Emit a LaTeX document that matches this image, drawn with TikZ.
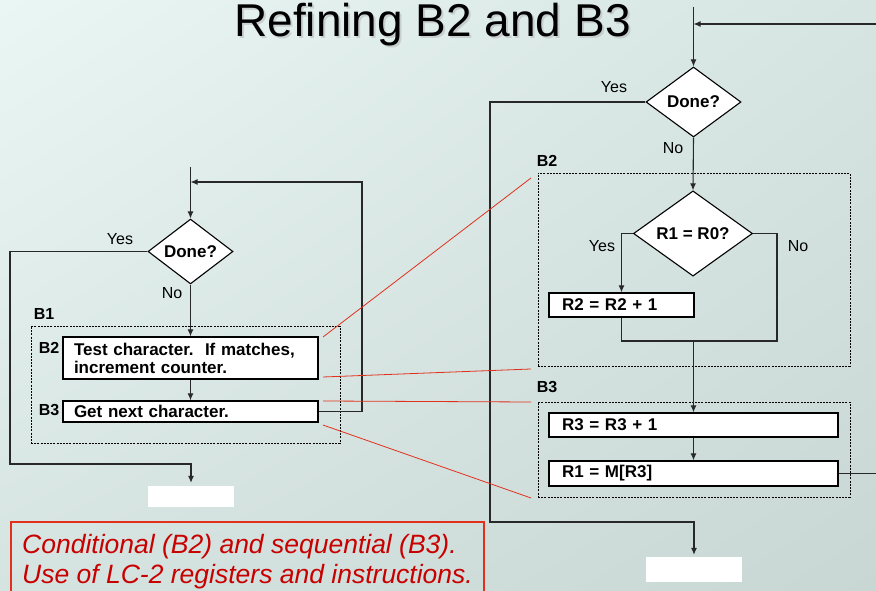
\documentclass[tikz,border=0pt]{standalone}
\usepackage{fontspec}
\setmainfont{Liberation Sans}
\usetikzlibrary{arrows.meta,shapes.geometric,shadings}
\definecolor{bgA}{RGB}{234,246,243}
\definecolor{bgB}{RGB}{214,229,226}
\definecolor{bgC}{RGB}{214,228,225}
\definecolor{bgD}{RGB}{200,214,212}
\definecolor{linecol}{RGB}{40,40,40}
\definecolor{zoomred}{RGB}{226,48,28}
\definecolor{captred}{RGB}{200,0,0}
\begin{document}
\begin{tikzpicture}[x=1pt,y=-1pt,
  flow/.style={draw=linecol, line width=1.1pt},
  arr/.style={flow, -{Latex[length=7pt,width=6pt]}},
  stepbox/.style={draw=black, line width=1.3pt, fill=white, inner ysep=0pt,
    align=left, font=\bfseries\fontsize{17}{18}\selectfont},
  decision/.style={diamond, draw=black, line width=1.1pt, fill=white, inner sep=0pt,
    font=\bfseries\fontsize{17}{18}\selectfont},
  group/.style={draw=black, line width=0.6pt, dash pattern=on 2pt off 1.2pt},
  tag/.style={font=\bfseries\fontsize{16}{18}\selectfont, inner sep=0pt},
  ans/.style={font=\fontsize{16}{18}\selectfont, inner sep=0pt},
  zoomline/.style={draw=zoomred, line width=0.8pt},
  blank/.style={fill=white, inner sep=0pt}]
\useasboundingbox (0,0) rectangle (876,591);
\clip (0,0) rectangle (876,591);
\shade[upper left=bgA, upper right=bgB, lower left=bgC, lower right=bgD] (0,0) rectangle (876,591);

% title with a soft drop shadow
\node[anchor=base, font=\fontsize{46}{50}\selectfont, text=black!40, opacity=0.35] at (434.5,38.5) {Refining B2 and B3};
\node[anchor=base, font=\fontsize{46}{50}\selectfont] (title) at (432.5,37) {Refining B2 and B3};

% ---------- left flowchart ----------
\node[group, minimum width=309pt, minimum height=117pt] (lgrp) at (185.5,384.5) {};
\node[decision, minimum width=85pt, minimum height=63pt] (ldone) at (190.5,251.5) {Done?};
\node[stepbox, minimum width=255pt, minimum height=42pt, inner xsep=11pt, text width=233pt] (lb2) at (190.5,358) {Test character.\ \ If matches,\\increment counter.};
\node[stepbox, minimum width=255pt, minimum height=21pt, inner xsep=11pt, text width=233pt] (lb3) at (190.5,411.5) {Get next character.};
\node[blank, minimum width=86pt, minimum height=21pt] (lend) at (191,496.5) {};

\node[tag] (lB1) at (44,314) {B1};
\node[tag] (lB2) at (49,348) {B2};
\node[tag] (lB3) at (49,410) {B3};
\node[ans] (lyes) at (120,239) {Yes};
\node[ans] (lno) at (172,293) {No};

\coordinate (lin) at (190.5,167);
\coordinate (lloop) at (190.5,182);
\coordinate (lright) at (362,182);
\coordinate (lcorner) at (10,464);

\draw[arr] (lin) -- (ldone.north);
\draw[arr] (ldone.south) -- (lb2.north);
\draw[arr] (lb2.south) -- (lb3.north);
\draw[arr] (lb3.east) -| (lright) -- (lloop);
\draw[arr, shorten >=3pt] (ldone.west) -| (lcorner) -| (lend.north);

% ---------- right flowchart ----------
\node[group, minimum width=312pt, minimum height=193pt] (rg2) at (694,269.5) {};
\node[group, minimum width=312pt, minimum height=95pt] (rg3) at (694,449.5) {};
\node[decision, minimum width=95pt, minimum height=70pt] (rdone) at (693.5,102) {Done?};
\node[decision, minimum width=119pt, minimum height=71pt] (rcmp) at (693,233.5) {R1 = R0?};
\node[stepbox, minimum width=145pt, minimum height=24pt, inner xsep=13pt, text width=119pt] (rr2) at (621.5,305) {R2 = R2 + 1};
\node[stepbox, minimum width=289pt, minimum height=24pt, inner xsep=13pt, text width=263pt] (rr3) at (693.5,425) {R3 = R3 + 1};
\node[stepbox, minimum width=289pt, minimum height=25pt, inner xsep=13pt, text width=263pt] (rr1) at (693.5,473.5) {R1 = M[R3]};
\node[blank, minimum width=96pt, minimum height=25pt] (rend) at (694,569.5) {};

\node[tag] (rB2) at (547,161) {B2};
\node[tag] (rB3) at (547,387) {B3};
\node[ans] (ryes) at (614,87) {Yes};
\node[ans] (rno) at (673,148) {No};
\node[ans] (cyes) at (602,246) {Yes};
\node[ans] (cno) at (798,246) {No};

\coordinate (rin) at (693.5,7);
\coordinate (rloopin) at (876,24);
\coordinate (rloopend) at (693.5,24);
\coordinate (rout) at (876,473.5);
\coordinate (rcorner) at (490,522);
\coordinate (rjoin) at (777,341);

\draw[arr] (rin) -- (rdone.north);
\draw[arr] (rloopin) -- (rloopend);
\draw[arr] (rdone.south) -- (rcmp.north);
\draw[arr] (rcmp.west) -| (rr2.north);
\draw[flow] (rcmp.east) -| (rjoin) -- (rr2.south |- rjoin) -- (rr2.south);
\draw[arr] (rjoin -| rr3.north) -- (rr3.north);
\draw[arr] (rr3.south) -- (rr1.north);
\draw[flow] (rr1.east) -- (rout);
\draw[arr, shorten >=2pt] (rdone.west) -| (rcorner) -| (rend.north);

% ---------- zoom guides ----------
\coordinate (z1a) at (323,337); \coordinate (z1b) at (531,178);
\coordinate (z2a) at (323,377); \coordinate (z2b) at (531,369);
\coordinate (z3a) at (323,401); \coordinate (z3b) at (531,402);
\coordinate (z4a) at (323,425); \coordinate (z4b) at (531,498);
\draw[zoomline] (z1a) -- (z1b);
\draw[zoomline] (z2a) -- (z2b);
\draw[zoomline] (z3a) -- (z3b);
\draw[zoomline] (z4a) -- (z4b);

% ---------- caption ----------
\draw[draw=zoomred, line width=1.2pt] (11,522) rectangle (484,600);
\node[anchor=base west, inner sep=0pt, text=captred, font=\itshape\fontsize{26.5}{30}\selectfont] (cap1) at (22,553) {Conditional (B2) and sequential (B3).};
\node[anchor=base west, inner sep=0pt, text=captred, font=\itshape\fontsize{26.5}{30}\selectfont] (cap2) at (22,583) {Use of LC-2 registers and instructions.};
\end{tikzpicture}
\end{document}
